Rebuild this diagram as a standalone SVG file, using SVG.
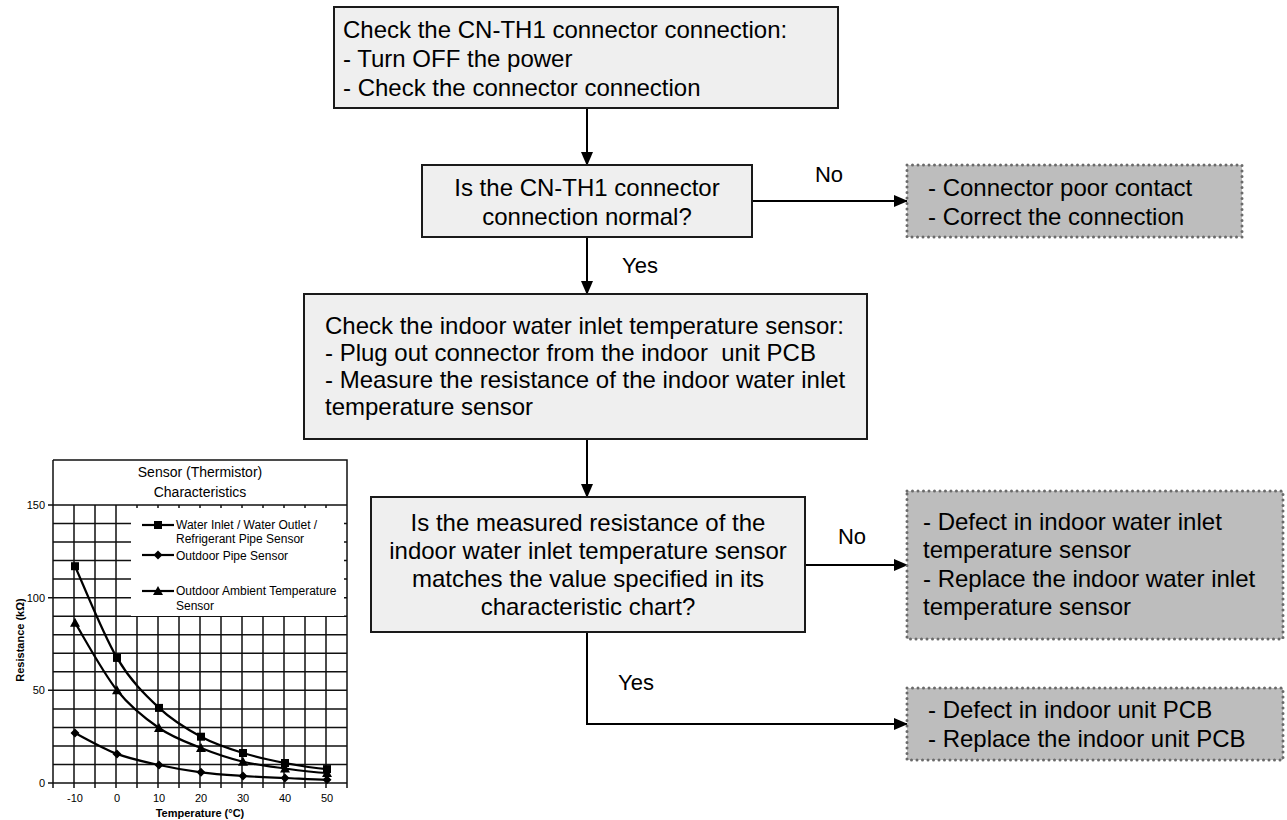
<svg xmlns="http://www.w3.org/2000/svg" width="1287" height="820" viewBox="0 0 1287 820">
<defs>
<marker id="arr" markerWidth="14" markerHeight="12" refX="13" refY="6" orient="auto" markerUnits="userSpaceOnUse">
<path d="M0,0 L14,6 L0,12 Z" fill="#000"/>
</marker>
<style>
.box{fill:#efefef;stroke:#1a1a1a;stroke-width:2}
.res{fill:#bdbdbd;stroke:#6a6a6a;stroke-width:3;stroke-dasharray:0 5.5;stroke-linecap:round}
.t{font-family:"Liberation Sans",Arial,sans-serif;font-size:24px;fill:#000}
.c{text-anchor:middle}
.lbl{font-family:"Liberation Sans",Arial,sans-serif;font-size:22px;fill:#000;text-anchor:middle}
.conn{stroke:#000;stroke-width:2;fill:none}
.grid{stroke:#111;stroke-width:1.5;fill:none}
.curve{stroke:#000;stroke-width:2.2;fill:none}
.ct{font-family:"Liberation Sans",Arial,sans-serif;font-size:11px;fill:#000}
.ax{font-family:"Liberation Sans",Arial,sans-serif;font-size:11px;font-weight:bold;fill:#000;text-anchor:middle}
.lg{font-family:"Liberation Sans",Arial,sans-serif;font-size:12px;fill:#000}
.ttl{font-family:"Liberation Sans",Arial,sans-serif;font-size:14px;fill:#000;text-anchor:middle}
</style>
</defs>
<rect width="1287" height="820" fill="#fff"/>

<g id="connectors">
<line class="conn" x1="587" y1="108" x2="587" y2="165" marker-end="url(#arr)"/>
<line class="conn" x1="752" y1="201" x2="907" y2="201" marker-end="url(#arr)"/>
<line class="conn" x1="587" y1="237" x2="587" y2="294" marker-end="url(#arr)"/>
<line class="conn" x1="587" y1="439" x2="587" y2="497" marker-end="url(#arr)"/>
<line class="conn" x1="805" y1="565" x2="907" y2="565" marker-end="url(#arr)"/>
<polyline class="conn" points="587,632 587,724 907,724" marker-end="url(#arr)"/>
<text class="lbl" x="829" y="182">No</text>
<text class="lbl" x="640" y="273">Yes</text>
<text class="lbl" x="852" y="544">No</text>
<text class="lbl" x="636" y="690">Yes</text>
</g>

<g id="n1">
<rect class="box" x="334" y="7" width="504" height="101"/>
<text class="t" x="343" y="38">Check the CN-TH1 connector connection:</text>
<text class="t" x="343" y="67">- Turn OFF the power</text>
<text class="t" x="343" y="96">- Check the connector connection</text>
</g>

<g id="n2">
<rect class="box" x="422" y="165" width="330" height="72"/>
<text class="t c" x="587" y="196">Is the CN-TH1 connector</text>
<text class="t c" x="587" y="225">connection normal?</text>
</g>

<g id="r1">
<rect class="res" x="907" y="165" width="335" height="72"/>
<text class="t" x="928" y="196">- Connector poor contact</text>
<text class="t" x="928" y="225">- Correct the connection</text>
</g>

<g id="n3">
<rect class="box" x="304" y="294" width="563" height="145"/>
<text class="t" x="325" y="334">Check the indoor water inlet temperature sensor:</text>
<text class="t" x="325" y="361" xml:space="preserve">- Plug out connector from the indoor  unit PCB</text>
<text class="t" x="325" y="388">- Measure the resistance of the indoor water inlet</text>
<text class="t" x="325" y="415">temperature sensor</text>
</g>

<g id="n4">
<rect class="box" x="371" y="497" width="434" height="135"/>
<text class="t c" x="588" y="531">Is the measured resistance of the</text>
<text class="t c" x="588" y="559">indoor water inlet temperature sensor</text>
<text class="t c" x="588" y="587">matches the value specified in its</text>
<text class="t c" x="588" y="615">characteristic chart?</text>
</g>

<g id="r2">
<rect class="res" x="907" y="491" width="376" height="148"/>
<text class="t" x="923" y="530">- Defect in indoor water inlet</text>
<text class="t" x="923" y="558">temperature sensor</text>
<text class="t" x="923" y="587">- Replace the indoor water inlet</text>
<text class="t" x="923" y="615">temperature sensor</text>
</g>

<g id="r3">
<rect class="res" x="907" y="688" width="376" height="72"/>
<text class="t" x="928" y="718">- Defect in indoor unit PCB</text>
<text class="t" x="928" y="747">- Replace the indoor unit PCB</text>
</g>

<g id="chart">
<rect x="53" y="460" width="294" height="323" fill="#fff"/>
<g class="grid">
<path d="M74,505V788 M95,505V788 M116,505V788 M137,505V788 M158,505V788 M179,505V788 M200,505V788 M221,505V788 M242,505V788 M263,505V788 M284,505V788 M305,505V788 M326,505V788"/>
<path d="M53,523.5H347 M53,542.1H347 M53,560.6H347 M53,579.1H347 M53,597.7H347 M53,616.2H347 M53,634.7H347 M53,653.3H347 M53,671.8H347 M53,690.3H347 M53,708.9H347 M53,727.4H347 M53,745.9H347 M53,764.5H347"/>
</g>
<rect x="131" y="508" width="213" height="108" fill="#fff"/>
<path class="grid" d="M53,460H347V783H48 M53,460V783 M48,505H347 M48,597.7H53 M48,690.3H53 M53,783V788 M347,783V788"/>
<text class="ttl" x="200" y="477">Sensor (Thermistor)</text>
<text class="ttl" x="200" y="497">Characteristics</text>

<text class="ct" x="45" y="509" text-anchor="end">150</text>
<text class="ct" x="45" y="602" text-anchor="end">100</text>
<text class="ct" x="45" y="694" text-anchor="end">50</text>
<text class="ct" x="45" y="787" text-anchor="end">0</text>
<g class="ct" text-anchor="middle">
<text x="75" y="802">-10</text>
<text x="117" y="802">0</text>
<text x="159" y="802">10</text>
<text x="201" y="802">20</text>
<text x="243" y="802">30</text>
<text x="285" y="802">40</text>
<text x="327" y="802">50</text>
</g>
<text class="ax" x="200" y="817">Temperature (°C)</text>
<text class="ax" transform="translate(24,640) rotate(-90)">Resistance (kΩ)</text>

<path class="curve" d="M75,566.2 C82,581.5 103,634.3 117,657.9 C131,681.5 145,694.8 159,707.9 C173,721 187,729.2 201,736.7 C215,744.2 229,748.6 243,753 C257,757.4 271,760.3 285,763 C299,765.7 313,768.1 327,769.1"/>
<path class="curve" d="M75,622.7 C82,634 103,672.8 117,690.3 C131,707.9 145,718.4 159,728 C173,737.6 187,742.4 201,748 C215,753.6 229,758.3 243,761.7 C257,765.1 271,766.6 285,768.5 C299,770.4 313,772.2 327,773"/>
<path class="curve" d="M75,733 C82,736.5 103,748.6 117,753.9 C131,759.2 145,761.9 159,765 C173,768.1 187,770.5 201,772.3 C215,774.1 229,775 243,776 C257,777 271,777.4 285,778 C299,778.6 313,779.5 327,779.8"/>
<g fill="#000">
<rect x="71" y="562.2" width="8" height="8"/><rect x="113" y="653.9" width="8" height="8"/><rect x="155" y="703.9" width="8" height="8"/><rect x="197" y="732.7" width="8" height="8"/><rect x="239" y="749" width="8" height="8"/><rect x="281" y="759" width="8" height="8"/><rect x="323" y="765.1" width="8" height="8"/>
<path d="M75,617.7l5,9h-10z M117,685.3l5,9h-10z M159,723l5,9h-10z M201,743l5,9h-10z M243,756.7l5,9h-10z M285,763.5l5,9h-10z M327,768l5,9h-10z"/>
<path d="M75,728.5l4.5,4.5l-4.5,4.5l-4.5,-4.5z M117,749.4l4.5,4.5l-4.5,4.5l-4.5,-4.5z M159,760.5l4.5,4.5l-4.5,4.5l-4.5,-4.5z M201,767.8l4.5,4.5l-4.5,4.5l-4.5,-4.5z M243,771.5l4.5,4.5l-4.5,4.5l-4.5,-4.5z M285,773.5l4.5,4.5l-4.5,4.5l-4.5,-4.5z M327,775.3l4.5,4.5l-4.5,4.5l-4.5,-4.5z"/>
</g>
<line class="curve" x1="142" y1="525" x2="174" y2="525"/>
<rect x="154" y="521" width="8" height="8" fill="#000"/>
<text class="lg" x="176" y="529">Water Inlet / Water Outlet /</text>
<text class="lg" x="176" y="543">Refrigerant Pipe Sensor</text>
<line class="curve" x1="142" y1="555" x2="174" y2="555"/>
<path d="M158,550.5l4.5,4.5l-4.5,4.5l-4.5,-4.5z" fill="#000"/>
<text class="lg" x="176" y="560">Outdoor Pipe Sensor</text>
<line class="curve" x1="142" y1="591" x2="174" y2="591"/>
<path d="M158,586l5,9h-10z" fill="#000"/>
<text class="lg" x="176" y="595">Outdoor Ambient Temperature</text>
<text class="lg" x="176" y="610">Sensor</text>
</g>
</svg>
